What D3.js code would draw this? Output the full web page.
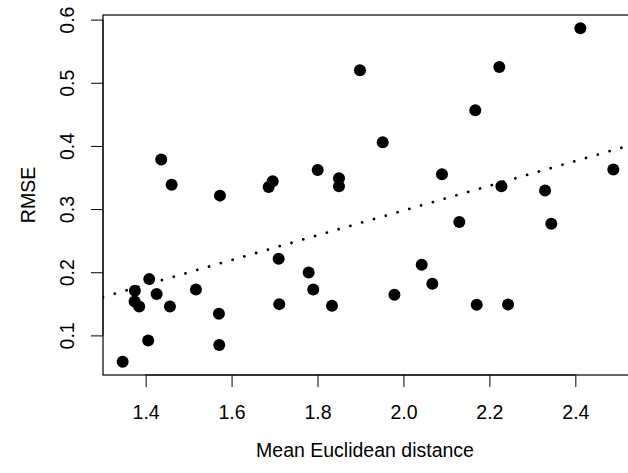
<!DOCTYPE html>
<html>
<head>
<meta charset="utf-8">
<script src="https://cdn.jsdelivr.net/npm/d3@7"></script>
<style>
  html, body { margin: 0; padding: 0; background: #fff; }
  svg { display: block; }
  text { font-family: "Liberation Sans", Arial, Helvetica, sans-serif; fill: #000; }
</style>
</head>
<body>
<svg id="chart" width="628" height="473"></svg>
<script>
// Mean Euclidean distance (x) and RMSE (y) per point
const meanDistance = [
  1.3465, 1.406, 1.5713, 1.5706, 1.4084, 1.375, 1.4256, 1.3744, 1.3851, 1.4566,
  1.5171, 1.4605, 1.573, 1.6863, 1.6956, 1.85, 1.85, 1.4363, 1.7096, 1.7794,
  1.7901, 1.711, 1.8337, 1.8004, 1.9517, 2.0425, 2.0672, 1.979, 1.8988, 2.2231,
  2.4117, 2.1672, 2.0897, 2.228, 2.3295, 2.4885, 2.13, 2.3441, 2.1705, 2.2434
];
const rmse = [
  0.0584, 0.0918, 0.0849, 0.1341, 0.1891, 0.1706, 0.1654, 0.1536, 0.1457, 0.1457,
  0.1727, 0.3387, 0.3213, 0.335, 0.344, 0.336, 0.3487, 0.3784, 0.2213, 0.1996,
  0.1727, 0.1495, 0.1468, 0.362, 0.4058, 0.2118, 0.1817, 0.1645, 0.52, 0.5248,
  0.5862, 0.4566, 0.3551, 0.336, 0.3295, 0.3625, 0.2796, 0.2769, 0.1484, 0.1489
];
// fitted line (abline): intercept, slope
const fitLine = [-0.0943, 0.196];
const xTicks = [1.4, 1.6, 1.8, 2.0, 2.2, 2.4];
const yTicks = [0.1, 0.2, 0.3, 0.4, 0.5, 0.6];
const xLabel = "Mean Euclidean distance";
const yLabel = "RMSE";

const svg = d3.select("#chart");
const plot = { left: 103, right: 633, top: 15, bottom: 375 };

function padded(vals) {
  const [lo, hi] = d3.extent(vals);
  const p = (hi - lo) * 0.04;
  return [lo - p, hi + p];
}
const x = d3.scaleLinear().domain(padded(meanDistance)).range([plot.left, plot.right]);
const y = d3.scaleLinear().domain(padded(rmse)).range([plot.bottom, plot.top]);

const fs = 19.5;

// clip
svg.append("clipPath").attr("id", "clip")
  .append("rect")
  .attr("x", plot.left).attr("y", plot.top)
  .attr("width", plot.right - plot.left).attr("height", plot.bottom - plot.top);

// box
svg.append("rect")
  .attr("x", plot.left).attr("y", plot.top)
  .attr("width", plot.right - plot.left).attr("height", plot.bottom - plot.top)
  .attr("fill", "none").attr("stroke", "#000").attr("stroke-width", 1.2);

// bottom axis
const xAxis = d3.axisBottom(x).tickValues(xTicks).tickSize(12).tickPadding(18)
  .tickFormat(d3.format(".1f"));
const gx = svg.append("g").attr("transform", `translate(0,${plot.bottom})`).call(xAxis);
gx.select(".domain").attr("d", `M${x(xTicks[0])},0H${x(xTicks[xTicks.length-1])}`)
  .attr("stroke", "#000");
gx.selectAll(".tick line").attr("stroke", "#000");
gx.selectAll(".tick text").attr("font-size", fs)
  .attr("font-family", "Liberation Sans, Arial, sans-serif").attr("fill", "#000");

// left axis
const yAxis = d3.axisLeft(y).tickValues(yTicks).tickSize(12).tickPadding(0)
  .tickFormat(d3.format(".1f"));
const gy = svg.append("g").attr("transform", `translate(${plot.left},0)`).call(yAxis);
gy.select(".domain").attr("d", `M0,${y(yTicks[0])}V${y(yTicks[yTicks.length-1])}`)
  .attr("stroke", "#000");
gy.selectAll(".tick line").attr("stroke", "#000");
gy.selectAll(".tick text")
  .attr("x", null).attr("dy", null)
  .attr("text-anchor", "middle")
  .attr("transform", "translate(-29,0) rotate(-90)")
  .attr("font-size", fs)
  .attr("font-family", "Liberation Sans, Arial, sans-serif").attr("fill", "#000");

// fitted dotted line
const xd = x.domain();
svg.append("line")
  .attr("clip-path", "url(#clip)")
  .attr("x1", x(xd[0])).attr("y1", y(fitLine[0] + fitLine[1] * xd[0]))
  .attr("x2", x(xd[1])).attr("y2", y(fitLine[0] + fitLine[1] * xd[1]))
  .attr("stroke", "#000").attr("stroke-width", 2.8)
  .attr("stroke-linecap", "round")
  .attr("stroke-dasharray", "0.01 12.25");

// points
svg.append("g").selectAll("circle")
  .data(meanDistance.map((d, i) => [d, rmse[i]]))
  .join("circle")
  .attr("cx", d => x(d[0])).attr("cy", d => y(d[1]))
  .attr("r", 6).attr("fill", "#000");

// axis titles
svg.append("text")
  .attr("x", (plot.left + plot.right) / 2 - 3).attr("y", 457)
  .attr("text-anchor", "middle").attr("font-size", fs).text(xLabel);
svg.append("text")
  .attr("transform", `translate(35,${(plot.top + plot.bottom) / 2}) rotate(-90)`)
  .attr("text-anchor", "middle").attr("font-size", fs).text(yLabel);
</script>
</body>
</html>
